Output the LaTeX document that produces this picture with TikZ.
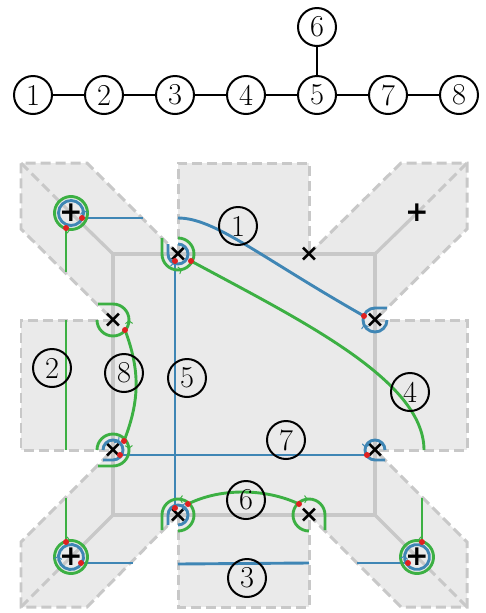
\documentclass[tikz,border=0pt]{standalone}
\usepackage{amsmath}
\usepackage{amssymb}
\usepackage{fontspec}
\newfontfamily\markfont{DejaVu Sans}
\usetikzlibrary{arrows,calc,decorations.markings}
\definecolor{flapfill}{HTML}{EAEAEA}
\definecolor{flapedge}{HTML}{C8C8C8}
\definecolor{linegreen}{HTML}{3CB043}
\definecolor{lineblue}{HTML}{3F86B5}
\definecolor{dotred}{HTML}{E02020}
\tikzset{
  numnode/.style={circle,draw,line width=.04cm,minimum size=.76cm,inner sep=0pt,font=\LARGE},
  flapline/.style={draw=flapedge,line width=.065cm},
  flapdash/.style={draw=flapedge,line width=.06cm,dash pattern=on .2cm off .1cm},
  greenline/.style={draw=linegreen,line width=.058cm},
  blueline/.style={draw=lineblue,line width=.058cm},
  arrowat/.style={postaction={decorate,decoration={markings,mark=at position #1 with {\arrow[line width=.7pt]{to}}}}},
  crossnode/.style={inner sep=0pt,font=\markfont\bfseries\fontsize{13.5}{14}\selectfont},
  plusnode/.style={inner sep=0pt,font=\markfont\bfseries\fontsize{16}{16}\selectfont},
  reddot/.style={circle,fill=dotred,minimum size=.12cm,inner sep=0pt}
}
\begin{document}
\begin{tikzpicture}[x=.02cm,y=-.02cm]
\useasboundingbox (0,0) rectangle (486,613);
% flaps
\fill[flapfill] (113,254) rectangle (375,515);
\fill[flapfill] (178,163) rectangle (309,254);
\fill[flapfill] (21,320) rectangle (113,450);
\fill[flapfill] (375,320) rectangle (467,450);
\fill[flapfill] (178,515) rectangle (309,607);
\fill[flapfill] (21,163) -- (87,163) -- (178,254) -- (113,320) -- (21,229) -- cycle;
\fill[flapfill] (467,163) -- (401,163) -- (309,254) -- (375,320) -- (467,229) -- cycle;
\fill[flapfill] (21,607) -- (87,607) -- (178,515) -- (113,450) -- (21,542) -- cycle;
\fill[flapfill] (467,607) -- (401,607) -- (309,515) -- (375,450) -- (467,542) -- cycle;
\draw[flapline] (113,254) rectangle (375,515);
\draw[flapline] (113,254) -- (71,213);
\draw[flapline] (375,254) -- (417,213);
\draw[flapline] (113,515) -- (71,557);
\draw[flapline] (375,515) -- (417,557);
\draw[flapdash] (178,254) -- (178,163) -- (309,163) -- (309,254);
\draw[flapdash] (113,320) -- (21,320) -- (21,450) -- (113,450);
\draw[flapdash] (375,320) -- (467,320) -- (467,450) -- (375,450);
\draw[flapdash] (178,515) -- (178,607) -- (309,607) -- (309,515);
\draw[flapdash] (178,254) -- (87,163) -- (21,163) -- (21,229) -- (113,320);
\draw[flapdash] (309,254) -- (401,163) -- (467,163) -- (467,229) -- (375,320);
\draw[flapdash] (178,515) -- (87,607) -- (21,607) -- (21,542) -- (113,450);
\draw[flapdash] (309,515) -- (401,607) -- (467,607) -- (467,542) -- (375,450);
\draw[flapdash] (21,163) -- (71,213);
\draw[flapdash] (467,163) -- (417,213);
\draw[flapdash] (21,607) -- (71,557);
\draw[flapdash] (467,607) -- (417,557);
% marks
\node[plusnode] (pnw) at (71,213) {+};
\node[plusnode] (pne) at (417,213) {+};
\node[plusnode] (psw) at (71,557) {+};
\node[plusnode] (pse) at (417,557) {+};
\node[crossnode] (xnw) at (178,254) {×};
\node[crossnode] (xne) at (309,254) {×};
\node[crossnode] (xwn) at (113,320) {×};
\node[crossnode] (xen) at (375,320) {×};
\node[crossnode] (xws) at (113,450) {×};
\node[crossnode] (xes) at (375,450) {×};
\node[crossnode] (xsw) at (178,515) {×};
\node[crossnode] (xse) at (309,515) {×};
% attachment points
\coordinate (gnw) at (66,228);
\coordinate (bnw) at (82,218);
\coordinate (gsw) at (66,542);
\coordinate (bsw) at (81,563);
\coordinate (gse) at (422,542);
\coordinate (bse) at (408,563);
\coordinate (gxnw) at (191,261);
\coordinate (bxnw) at (175,261);
\coordinate (gxwn) at (125,330);
\coordinate (gxws) at (124,441);
\coordinate (bxws) at (120,455);
\coordinate (bxen) at (364,316);
\coordinate (bxes) at (367,455);
\coordinate (gxsw) at (188,504);
\coordinate (bxsw) at (175,508);
\coordinate (gxse) at (299,504);
\coordinate (endA) at (66,272);
\coordinate (endB) at (143,218);
\coordinate (endC) at (66,498);
\coordinate (endD) at (133,563);
\coordinate (endE) at (422,498);
\coordinate (endF) at (357,563);
% strands
\draw[greenline] (gnw) -- (endA);
\draw[blueline] (bnw) -- (endB);
\draw[greenline] (gsw) -- (endC);
\draw[blueline] (bsw) -- (endD);
\draw[greenline] (gse) -- (endE);
\draw[blueline] (bse) -- (endF);
\draw[blueline] (bxnw) -- (bxsw);
\draw[blueline] (bxws) -- (bxes);
\draw[greenline] (gxnw) .. controls (300,320) and (424,380) .. (424,450);
\draw[greenline] (gxwn) .. controls (140,370) and (140,400) .. (gxws);
\draw[greenline] (gxsw) .. controls (220,488) and (265,488) .. (gxse);
\draw[blueline] (178,218) .. controls (215,218) and (260,257) .. (bxen);
\draw[greenline] (66,320) -- (66,450);
\draw[blueline] (178,564) -- (309,563);
% loops
\draw[greenline,arrowat=.05] ($(pnw)+(-108:.33cm)$) arc[start angle=-108,delta angle=360,radius=.33cm];
\draw[blueline,arrowat=.11] ($(pnw)+(-24:.25cm)$) arc[start angle=-24,delta angle=360,radius=.25cm];
\draw[greenline,arrowat=.05] ($(psw)+(108:.33cm)$) arc[start angle=108,delta angle=-360,radius=.33cm];
\draw[blueline,arrowat=.44] ($(psw)+(-30:.25cm)$) arc[start angle=-30,delta angle=-360,radius=.25cm];
\draw[greenline,arrowat=.05] ($(pse)+(72:.33cm)$) arc[start angle=72,delta angle=360,radius=.33cm];
\draw[blueline,arrowat=.12] ($(pse)+(214:.25cm)$) arc[start angle=214,delta angle=-360,radius=.25cm];
\draw[greenline,arrowat=.5] (162,238) -- (162,254) arc[start angle=180,delta angle=270,radius=.32cm];
\draw[blueline,arrowat=.4] (168,244) -- (168,254) arc[start angle=180,delta angle=270,radius=.2cm];
\draw[greenline,arrowat=.56] (97,320) arc[start angle=180,delta angle=270,radius=.32cm] -- (98,304);
\draw[greenline,arrowat=.55] (97,450) arc[start angle=180,delta angle=-270,radius=.32cm] -- (98,466);
\draw[blueline,arrowat=.4] (103,450) arc[start angle=180,delta angle=-270,radius=.2cm] -- (103,460);
\draw[blueline,arrowat=.49] (387,320) arc[start angle=0,delta angle=-270,radius=.24cm] -- (387,308);
\draw[blueline,arrowat=.52] (385,450) arc[start angle=0,delta angle=270,radius=.2cm] -- (385,460);
\draw[greenline,arrowat=.55] (178,531) arc[start angle=-90,delta angle=270,radius=.32cm] -- (162,530);
\draw[blueline,arrowat=.5] (178,525) arc[start angle=-90,delta angle=270,radius=.2cm] -- (168,525);
\draw[greenline,arrowat=.55] (309,531) arc[start angle=-90,delta angle=-270,radius=.32cm] -- (325,530);
% red dots
\foreach \d in {gnw,bnw,gsw,bsw,gse,bse,gxnw,bxnw,gxwn,gxws,bxws,bxen,bxes,gxsw,bxsw,gxse}
  \node[reddot] (r\d) at (\d) {};
% labels on the sheet
\node[numnode] (lab1) at (238,226) {1};
\node[numnode] (lab2) at (52,368) {2};
\node[numnode] (lab3) at (247,578) {3};
\node[numnode] (lab4) at (410,392) {4};
\node[numnode] (lab5) at (187,378) {5};
\node[numnode] (lab6) at (246,500) {6};
\node[numnode] (lab7) at (286,440) {7};
\node[numnode] (lab8) at (124,373) {8};
% graph on top
\node[numnode] (n1) at (33,95) {1};
\node[numnode] (n2) at (104,95) {2};
\node[numnode] (n3) at (175,95) {3};
\node[numnode] (n4) at (246,95) {4};
\node[numnode] (n5) at (317,95) {5};
\node[numnode] (n7) at (388,95) {7};
\node[numnode] (n8) at (459,95) {8};
\node[numnode] (n6) at (317,27) {6};
\foreach \a/\b in {n1/n2,n2/n3,n3/n4,n4/n5,n5/n7,n7/n8,n5/n6}
  \draw[line width=.025cm] (\a) -- (\b);
\end{tikzpicture}
\end{document}
